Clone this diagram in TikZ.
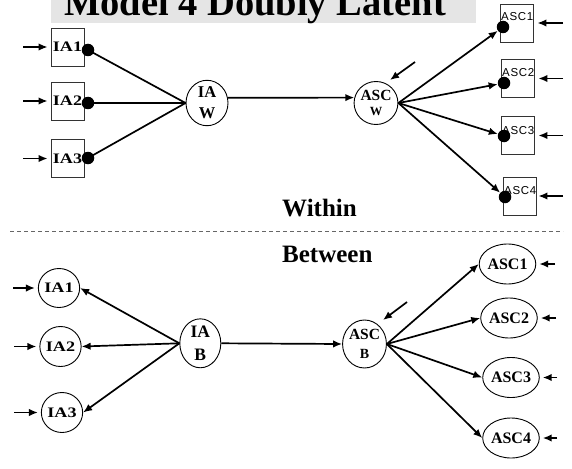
\documentclass[tikz,border=0pt]{standalone}
\usepackage{fontspec}
\setmainfont{Liberation Serif}
\newfontfamily\ascfont{Liberation Sans}[LetterSpace=6]
\newfontfamily\wideserif{Liberation Serif}[FakeStretch=1.25]
\usetikzlibrary{arrows.meta,shapes.geometric}

\begin{document}
\begin{tikzpicture}[x=1pt,y=-1pt,
  conn/.style={line width=1.7pt},
  arr/.style={conn,-{Latex[length=9pt,width=7.5pt]}},
  boxnode/.style={draw=black!80,line width=0.8pt,minimum width=33pt,minimum height=38pt,inner sep=0pt},
  boxlabel/.style={font=\wideserif\bfseries\fontsize{14.5}{14.5}\selectfont,inner sep=0pt},
  asclabel/.style={font=\ascfont\fontsize{11.5}{11.5}\selectfont,inner sep=0pt,anchor=base west},
  dotnode/.style={circle,fill=black,minimum size=12.5pt,inner sep=0pt},
  latent/.style={ellipse,draw,line width=0.9pt,inner sep=0pt,align=center,font=\bfseries},
  smallcirc/.style={latent,minimum width=38pt,minimum height=40pt,font=\wideserif\bfseries\fontsize{14.5}{14.5}\selectfont},
  asccirc/.style={latent,minimum width=39pt,minimum height=40pt,font=\bfseries\fontsize{16}{16}\selectfont},
  heading/.style={font=\bfseries\fontsize{25}{25}\selectfont,anchor=base west,inner sep=0pt},
]
\useasboundingbox (0,0) rectangle (572,468);

% title banner
\fill[black!10] (51,0) rectangle (476,22.7);
\node[anchor=base,inner sep=0pt,font=\bfseries\fontsize{38.5}{40}\selectfont] (title) at (255,16) {Model 4 Doubly Latent};

% ---------------- within level ----------------
\node[boxnode,boxlabel] (ia1w) at (67.5,47) {IA1};
\node[boxnode,boxlabel] (ia2w) at (67.5,101) {IA2};
\node[boxnode,boxlabel] (ia3w) at (67.5,158.5) {IA3};

\coordinate (inw1) at (23,47);
\coordinate (inw2) at (23,101);
\coordinate (inw3) at (23,158.5);
\draw[arr,shorten >=3pt] (inw1) -- (ia1w.west);
\draw[arr,shorten >=3pt] (inw2) -- (ia2w.west);
\draw[arr,shorten >=3pt] (inw3) -- (ia3w.west);

\node[latent,minimum width=42pt,minimum height=42pt,font=\bfseries\fontsize{16.5}{21}\selectfont] (iaw) at (207,103) {IA\\W};
\node[latent,minimum width=42pt,minimum height=43pt,font=\bfseries\fontsize{15.5}{15}\selectfont] (ascw) at (376,103) {ASC\\{\fontsize{12.5}{12.5}\selectfont W}};

% loadings from the three indicators
\coordinate (d1) at (88,50);
\coordinate (d2) at (88,103);
\coordinate (d3) at (88,158);
\draw[conn] (d1) -- (iaw.west);
\draw[conn] (d2) -- (iaw.west);
\draw[conn] (d3) -- (iaw.west);
\node[dotnode] (ia1d) at (d1) {};
\node[dotnode] (ia2d) at (d2) {};
\node[dotnode] (ia3d) at (d3) {};

\draw[arr] (iaw.14) -- (ascw.166);

\coordinate (wsrc) at (415,62);
\coordinate (wend) at (390,80);
\draw[arr] (wsrc) -- (wend);

% indicator boxes on the right
\node[boxnode] (asc1w) at (516.5,23) {};
\node[boxnode] (asc2w) at (517.5,78.5) {};
\node[boxnode] (asc3w) at (518,135.5) {};
\node[boxnode] (asc4w) at (519.5,196) {};
\node[asclabel] (t1) at (501,21) {ASC1};
\node[asclabel] (t2) at (502,77) {ASC2};
\node[asclabel] (t3) at (502,134) {ASC3};
\node[asclabel] (t4) at (504,194) {ASC4};

\node[dotnode] (a1d) at (503,27) {};
\node[dotnode] (a2d) at (504,83) {};
\node[dotnode] (a3d) at (504,136) {};
\node[dotnode] (a4d) at (505,197) {};

\draw[arr] (ascw.east) -- (a1d);
\draw[arr] (ascw.east) -- (a2d);
\draw[arr] (ascw.east) -- (a3d);
\draw[arr] (ascw.east) -- (a4d);

\coordinate (inr1) at (563,23);
\coordinate (inr2) at (563,78.5);
\coordinate (inr3) at (563,135.5);
\coordinate (inr4) at (563,196);
\draw[arr,shorten >=4pt] (inr1) -- (asc1w.east);
\draw[arr,shorten >=4pt] (inr2) -- (asc2w.east);
\draw[arr,shorten >=3.5pt] (inr3) -- (asc3w.east);
\draw[arr,shorten >=2pt] (inr4) -- (asc4w.east);

% ---------------- separator ----------------
\node[heading] (within) at (282,216) {Within};
\coordinate (sepl) at (10,231);
\coordinate (sepr) at (563,231);
\draw[black!60,line width=1pt,dash pattern=on 4pt off 3pt] (sepl) -- (sepr);
\node[heading] (between) at (282,262) {Between};

% ---------------- between level ----------------
\node[smallcirc,minimum width=37pt,minimum height=39pt] (b1) at (59,288) {IA1};
\node[smallcirc] (b2) at (60.5,346.5) {IA2};
\node[smallcirc] (b3) at (62,412.5) {IA3};

\coordinate (inb1) at (13,288);
\coordinate (inb2) at (14,346.5);
\coordinate (inb3) at (14,412.5);
\draw[arr,shorten >=3pt] (inb1) -- (b1.west);
\draw[arr,shorten >=3pt] (inb2) -- (b2.west);
\draw[arr,shorten >=3pt] (inb3) -- (b3.west);

\node[latent,minimum width=41pt,minimum height=47pt,font=\bfseries\fontsize{17.5}{23}\selectfont] (iab) at (200.3,343.3) {IA\\B};
\node[latent,minimum width=43pt,minimum height=48pt,font=\bfseries\fontsize{15.5}{19}\selectfont] (ascb) at (364.5,344) {ASC\\{\fontsize{14}{14}\selectfont B}};

\draw[arr] (iab.west) -- (b1.east);
\draw[arr] (iab.west) -- (b2.east);
\draw[arr] (iab.west) -- (b3.east);

\draw[arr] (iab.east) -- (ascb.west);

\coordinate (bsrc) at (407,302);
\coordinate (bend) at (383,320);
\draw[arr] (bsrc) -- (bend);

\node[asccirc] (c1) at (507.5,264) {ASC1};
\node[asccirc] (c2) at (509,318) {ASC2};
\node[asccirc] (c3) at (511,377.5) {ASC3};
\node[asccirc] (c4) at (511,438) {ASC4};

\draw[arr] (ascb.east) -- (c1.west);
\draw[arr] (ascb.east) -- (c2.west);
\draw[arr] (ascb.east) -- (c3.west);
\draw[arr] (ascb.east) -- (c4.west);

\coordinate (inc1) at (555,264);
\coordinate (inc2) at (556,318);
\coordinate (inc3) at (557,377.5);
\coordinate (inc4) at (557,438);
\draw[arr,shorten >=3pt] (inc1) -- (c1.east);
\draw[arr,shorten >=3pt] (inc2) -- (c2.east);
\draw[arr,shorten >=3pt] (inc3) -- (c3.east);
\draw[arr,shorten >=3pt] (inc4) -- (c4.east);
\end{tikzpicture}
\end{document}
